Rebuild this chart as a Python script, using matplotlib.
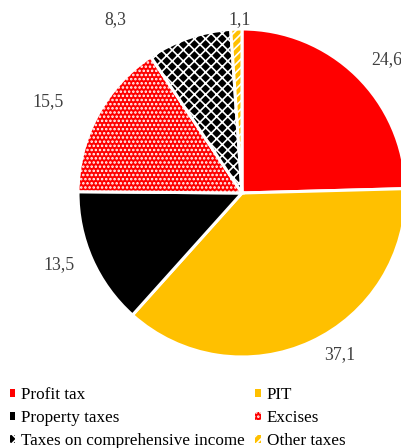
import matplotlib
matplotlib.use("Agg")
import matplotlib.pyplot as plt
from matplotlib.patches import Patch

categories = ["Profit tax", "PIT", "Property taxes", "Excises",
              "Taxes on comprehensive income", "Other taxes"]
values = [24.6, 37.1, 13.5, 15.5, 8.3, 1.1]
value_labels = ["24,6", "37,1", "13,5", "15,5", "8,3", "1,1"]

colors = ["#FF0000", "#FFC000", "#000000", "#FF0000", "#000000", "#FFC000"]
hatches = [None, None, None, "....", "xxx", "////"]

plt.rcParams['font.family'] = ['Liberation Serif', 'DejaVu Serif']
plt.rcParams['hatch.linewidth'] = 1.2

fig = plt.figure(figsize=(4.02, 4.48), dpi=100)
ax = fig.add_axes([0, 0, 1, 1])
ax.set_xlim(0, 402)
ax.set_ylim(0, 448)

cx, cy, R = 242, 255, 164
wedges, _ = ax.pie(values, colors=colors, startangle=90, counterclock=False,
                   center=(cx, cy), radius=R, frame=True,
                   wedgeprops=dict(edgecolor="white", linewidth=2.2))
for w, h in zip(wedges, hatches):
    if h:
        w.set_hatch(h)
ax.set_xlim(0, 402)
ax.set_ylim(0, 448)
ax.set_aspect('auto')
ax.axis('off')

label_pos = [(387, 388), (340, 93), (59, 183), (48, 346), (115, 428), (240, 428)]
for (x, y), t in zip(label_pos, value_labels):
    ax.text(x, y, t, ha="center", va="center", fontsize=12.8, color="#404040")

handles = [Patch(facecolor=c, edgecolor="white", hatch=h, linewidth=0)
           for c, h in zip(colors, hatches)]
order = [0, 2, 4, 1, 3, 5]
fig.legend([handles[i] for i in order], [categories[i] for i in order],
           loc="upper left", bbox_to_anchor=(10 / 402, 1 - 387 / 448),
           ncol=2, frameon=False, fontsize=12.3, handlelength=0.32,
           handleheight=0.32, handletextpad=0.35, columnspacing=0.6,
           labelspacing=0.42, borderpad=0, borderaxespad=0,
           labelcolor="#000000")

fig.savefig("out.png", dpi=100)
